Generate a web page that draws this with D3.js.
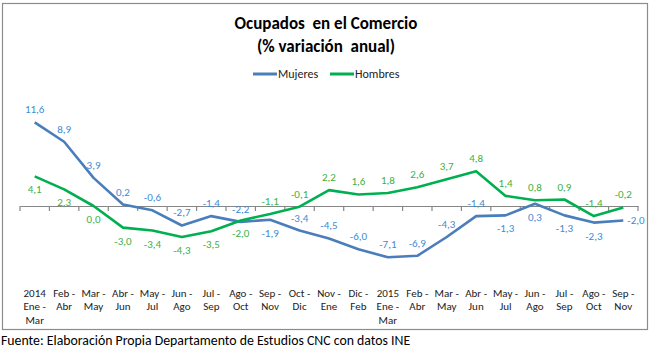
<!DOCTYPE html>
<html><head><meta charset="utf-8">
<script src="https://cdn.jsdelivr.net/npm/d3@7"></script>
<style>body{margin:0;background:#fff}svg{display:block}text{white-space:pre}</style>
</head><body>
<svg id="c" width="651" height="360"></svg>
<script>
const categories = [
  ["2014","Ene -","Mar"],["Feb -","Abr"],["Mar -","May"],["Abr -","Jun"],["May -","Jul"],
  ["Jun -","Ago"],["Jul -","Sep"],["Ago -","Oct"],["Sep -","Nov"],["Oct -","Dic"],
  ["Nov -","Ene"],["Dic -","Feb"],["2015","Ene -","Mar"],["Feb -","Abr"],["Mar -","May"],
  ["Abr -","Jun"],["May -","Jul"],["Jun -","Ago"],["Jul -","Sep"],["Ago -","Oct"],["Sep -","Nov"]
];
const mujeres = [11.6, 8.9, 3.9, 0.2, -0.6, -2.7, -1.4, -2.2, -1.9, -3.4, -4.5, -6.0, -7.1, -6.9, -4.3, -1.4, -1.3, 0.3, -1.3, -2.3, -2.0];
const hombres = [4.1, 2.3, 0.0, -3.0, -3.4, -4.3, -3.5, -2.0, -1.1, -0.1, 2.2, 1.6, 1.8, 2.6, 3.7, 4.8, 1.4, 0.8, 0.9, -1.4, -0.2];
// label placement: a = above, b = below, r = right
const mujeresPos = ["a","a","a","a","a","a","a","a","b","a","a","a","a","a","a","a","b","b","b","b","r"];
const hombresPos = ["b","b","b","b","b","b","b","b","a","a","a","a","a","a","a","a","a","a","a","a","a"];

const svg = d3.select("#c");
const font = "Carlito, 'Open Sans', 'Liberation Sans', sans-serif";

svg.append("rect").attr("x",2.5).attr("y",3.5).attr("width",645).attr("height",326)
  .attr("fill","#fff").attr("stroke","#8c8c8c").attr("stroke-width",1.2);

svg.append("text").attr("x",326).attr("y",29).attr("text-anchor","middle")
  .attr("font-family",font).attr("font-weight","bold").attr("font-size",17).attr("fill","#000")
  .text("Ocupados  en el Comercio");
svg.append("text").attr("x",326).attr("y",52).attr("text-anchor","middle")
  .attr("font-family",font).attr("font-weight","bold").attr("font-size",17).attr("fill","#000")
  .text("(% variación  anual)");

const blue = "#4a7ebb", blueLbl = "#3d8bd4", green = "#00b050", greenLbl = "#3cb043";

// legend
const lg = svg.append("g").attr("font-family",font).attr("font-size",12).attr("fill","#222");
lg.append("line").attr("x1",253).attr("x2",277).attr("y1",74).attr("y2",74).attr("stroke",blue).attr("stroke-width",3);
lg.append("text").attr("x",278).attr("y",78).text("Mujeres");
lg.append("line").attr("x1",330).attr("x2",354).attr("y1",74).attr("y2",74).attr("stroke",green).attr("stroke-width",3);
lg.append("text").attr("x",355).attr("y",78).text("Hombres");

const x = d3.scaleBand().domain(d3.range(categories.length)).range([20,638]);
const y = d3.scaleLinear().domain([0, 11.6]).range([206, 122.3]);
const cx = i => x(i) + x.bandwidth()/2;

// axis
const axis = d3.axisBottom(x).tickSize(0).tickFormat("");
const ag = svg.append("g").attr("transform",`translate(0,${y(0)})`).call(axis);
ag.select(".domain").attr("stroke","#868686").attr("stroke-width",1.2);
const ticks = d3.range(categories.length+1).map(i => i===categories.length ? 638 : x(i));
svg.append("g").selectAll("line").data(ticks).join("line")
  .attr("x1",d=>d).attr("x2",d=>d).attr("y1",y(0)).attr("y2",y(0)+5)
  .attr("stroke","#868686").attr("stroke-width",1.2);

// category labels
const cl = svg.append("g").attr("font-family",font).attr("font-size",11).attr("fill","#222").attr("text-anchor","middle");
categories.forEach((c,i)=>{
  c.forEach((t,j)=>{
    cl.append("text").attr("x",cx(i)).attr("y",297+j*13.3).text(t);
  });
});

const line = d3.line().x((d,i)=>cx(i)).y(d=>y(d));
svg.append("path").datum(mujeres).attr("d",line).attr("fill","none").attr("stroke",blue).attr("stroke-width",2.6).attr("stroke-linejoin","round");
svg.append("path").datum(hombres).attr("d",line).attr("fill","none").attr("stroke",green).attr("stroke-width",2.6).attr("stroke-linejoin","round");

const fmt = v => v.toFixed(1).replace(".",",");
function labels(data,pos,color){
  const g = svg.append("g").attr("font-family",font).attr("font-size",11).attr("fill",color);
  data.forEach((v,i)=>{
    const p = pos[i];
    let lx = cx(i), ly = y(v), anchor = "middle";
    if(p==="a") ly -= 9;
    else if(p==="b") ly += 17;
    else { lx += 4; ly += 4; anchor = "start"; }
    g.append("text").attr("x",lx).attr("y",ly).attr("text-anchor",anchor).text(fmt(v));
  });
}
labels(mujeres,mujeresPos,blueLbl);
labels(hombres,hombresPos,greenLbl);

svg.append("text").attr("x",1).attr("y",345).attr("font-family",font).attr("font-size",13.8).attr("fill","#000")
  .text("Fuente: Elaboración Propia Departamento de Estudios CNC con datos INE");
</script>
</body></html>
